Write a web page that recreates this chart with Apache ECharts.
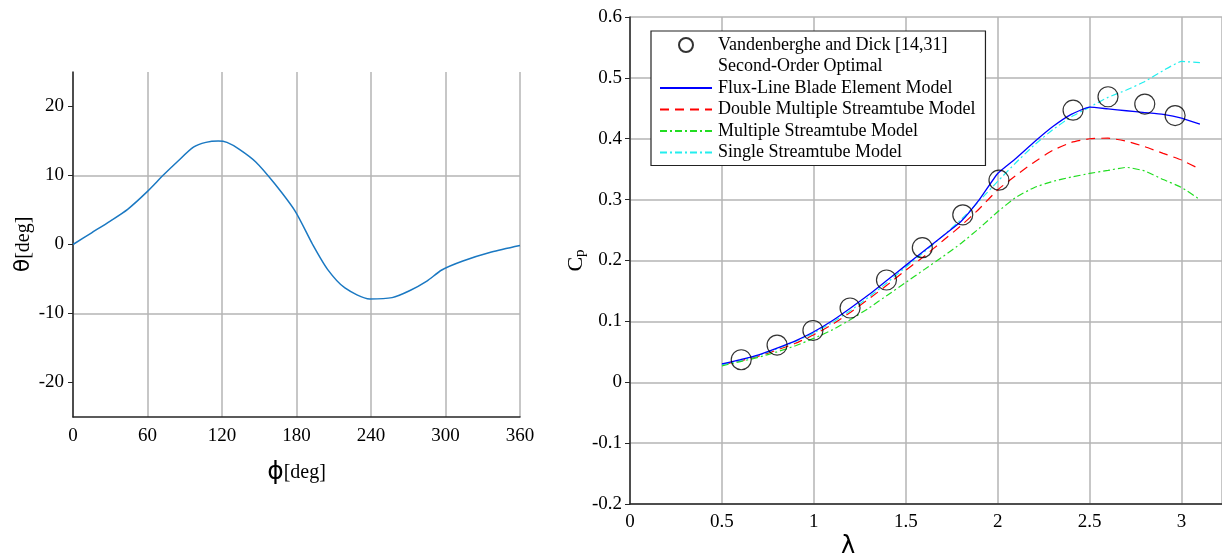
<!DOCTYPE html>
<html><head><meta charset="utf-8">
<script src="https://cdn.jsdelivr.net/npm/echarts@6/dist/echarts.min.js"></script>
<style>html,body{margin:0;padding:0;background:#fff}#c{width:1222px;height:559px}</style>
</head><body><div id="c"></div>
<script>
// Left panel: pitch angle vs azimuth
const phiDeg = [0, 15, 30, 44, 60, 73, 84, 97, 107, 117, 124, 134, 147, 162, 179, 193, 205, 219, 239, 257, 271, 285, 297, 314, 337, 360];
const thetaDeg = [0, 1.7, 3.4, 5.1, 7.7, 10.1, 12.0, 14.1, 14.8, 15.0, 14.8, 13.8, 12.0, 8.9, 4.8, 0, -3.6, -6.3, -7.9, -7.7, -6.7, -5.3, -3.7, -2.4, -1.1, -0.15];
const phiTicks = [0, 60, 120, 180, 240, 300, 360];
const thetaTicks = [-20, -10, 0, 10, 20];

// Right panel: power coefficient vs tip speed ratio
const lambdaExp = [0.605, 0.80, 0.995, 1.197, 1.395, 1.59, 1.81, 2.007, 2.41, 2.60, 2.80, 2.965];
const cpExp = [0.037, 0.061, 0.085, 0.122, 0.168, 0.221, 0.275, 0.332, 0.447, 0.469, 0.457, 0.438];
const lambdaModel = [0.5, 0.6, 0.7, 0.8, 0.9, 1.0, 1.1, 1.2, 1.3, 1.4, 1.5, 1.6, 1.7, 1.8, 1.9, 2.0, 2.1, 2.2, 2.3, 2.4, 2.5, 2.6, 2.7, 2.8, 2.9, 3.0, 3.1];
const cpFluxLine = [0.030, 0.037, 0.045, 0.056, 0.068, 0.083, 0.101, 0.122, 0.144, 0.168, 0.192, 0.216, 0.240, 0.264, 0.300, 0.343, 0.368, 0.395, 0.420, 0.440, 0.452, 0.449, 0.446, 0.443, 0.440, 0.434, 0.424];
const cpDMS = [0.029, 0.035, 0.043, 0.053, 0.064, 0.078, 0.095, 0.115, 0.137, 0.160, 0.184, 0.207, 0.232, 0.257, 0.285, 0.316, 0.340, 0.362, 0.381, 0.394, 0.400, 0.401, 0.396, 0.387, 0.376, 0.365, 0.350];
const cpMS = [0.027, 0.034, 0.041, 0.050, 0.060, 0.072, 0.086, 0.103, 0.122, 0.143, 0.164, 0.185, 0.206, 0.228, 0.253, 0.280, 0.304, 0.320, 0.330, 0.337, 0.343, 0.348, 0.353, 0.347, 0.333, 0.320, 0.300];
const cpSS = [0.029, 0.036, 0.044, 0.055, 0.067, 0.081, 0.098, 0.118, 0.140, 0.164, 0.189, 0.214, 0.240, 0.267, 0.298, 0.330, 0.361, 0.390, 0.415, 0.436, 0.452, 0.468, 0.480, 0.494, 0.512, 0.527, 0.525];
const seriesNames = ['Vandenberghe and Dick [14,31]', 'Second-Order Optimal', 'Flux-Line Blade Element Model', 'Double Multiple Streamtube Model', 'Multiple Streamtube Model', 'Single Streamtube Model'];

const zip = (a, b) => a.map((v, i) => [v, b[i]]);
const SERIF = '"Liberation Serif","Times New Roman",serif';
const GRID = '#b4b4b4';
const AX = '#262626';
const tickFont = { fontFamily: SERIF, fontSize: 19, color: '#000' };
const noDot = { opacity: 0 };

const chart = echarts.init(document.getElementById('c'), null, { renderer: 'canvas' });
chart.setOption({
  animation: false,
  backgroundColor: '#fff',
  grid: [
    { left: 73, right: 702, top: 72, bottom: 142 },
    { left: 630, right: -2, top: 17, bottom: 55 }
  ],
  legend: {
    left: 651, top: 31, orient: 'vertical',
    backgroundColor: '#fff', borderColor: '#222', borderWidth: 1.2, borderRadius: 0,
    padding: [5, 10, 4, 8], itemGap: 3.5, itemWidth: 52, itemHeight: 14,
    textStyle: { fontFamily: SERIF, fontSize: 18, color: '#000', padding: [0, 0, 0, 1] },
    selectedMode: false,
    data: [
      { name: seriesNames[0], icon: 'circle' },
      { name: seriesNames[1], icon: 'rect', itemStyle: { opacity: 0 } },
      { name: seriesNames[2], itemStyle: noDot },
      { name: seriesNames[3], itemStyle: noDot },
      { name: seriesNames[4], itemStyle: noDot },
      { name: seriesNames[5], itemStyle: noDot }
    ]
  },
  xAxis: [
    {
      gridIndex: 0, type: 'value', min: 0, max: 360, interval: 60,
      name: '{s|ϕ}{t|[deg]}', nameLocation: 'middle', nameGap: 43,
      nameTextStyle: { rich: { s: { fontFamily: 'DejaVu Sans', fontSize: 25, color: '#000' }, t: { fontFamily: SERIF, fontSize: 20, color: '#000' } } },
      axisLine: { onZero: false, lineStyle: { color: AX, width: 1.5 } },
      axisTick: { show: false },
      axisLabel: Object.assign({ margin: 10 }, tickFont),
      splitLine: { show: true, lineStyle: { color: GRID, width: 1.5 } }
    },
    {
      gridIndex: 1, type: 'value', min: 0, max: 3.22, interval: 0.5,
      axisLine: { onZero: false, lineStyle: { color: AX, width: 1.5 } },
      axisTick: { show: false },
      axisLabel: Object.assign({ margin: 9, showMaxLabel: false }, tickFont),
      splitLine: { show: true, lineStyle: { color: GRID, width: 1.5 } }
    }
  ],
  yAxis: [
    {
      gridIndex: 0, type: 'value', min: -25, max: 25, interval: 5,
      name: '{s|θ}{t|[deg]}', nameLocation: 'middle', nameRotate: 90, nameGap: 32,
      nameTextStyle: { rich: { s: { fontFamily: 'DejaVu Sans', fontSize: 22, color: '#000' }, t: { fontFamily: SERIF, fontSize: 20, color: '#000' } } },
      axisLine: { show: true, onZero: false, lineStyle: { color: AX, width: 1.5 } },
      axisTick: { show: true, length: 5, lineStyle: { color: AX }, customValues: thetaTicks },
      axisLabel: Object.assign({ margin: 9, customValues: thetaTicks, formatter: v => (thetaTicks.indexOf(v) >= 0 ? String(v) : '') }, tickFont),
      splitLine: { show: true, lineStyle: { color: ['rgba(0,0,0,0)', GRID], width: 1.5 } }
    },
    {
      gridIndex: 1, type: 'value', min: -0.2, max: 0.6, interval: 0.1,
      name: '{a|C}{b|p}', nameLocation: 'middle', nameRotate: 90, nameGap: 31,
      nameTextStyle: { rich: { a: { fontFamily: SERIF, fontSize: 22, color: '#000' }, b: { fontFamily: SERIF, fontSize: 15, color: '#000', padding: [9, 0, 0, 0] } } },
      axisLine: { show: true, onZero: false, lineStyle: { color: AX, width: 1.5 } },
      axisTick: { show: true, length: 5, lineStyle: { color: AX } },
      axisLabel: Object.assign({ margin: 8, formatter: v => String(Math.round(v * 10) / 10) }, tickFont),
      splitLine: { show: true, lineStyle: { color: GRID, width: 1.5 } }
    }
  ],
  graphic: [
    { type: 'text', left: 841, top: 535, style: { text: 'λ', font: '24px "DejaVu Sans"', fill: '#000' } }
  ],
  series: [
    {
      type: 'line', xAxisIndex: 0, yAxisIndex: 0, data: zip(phiDeg, thetaDeg),
      smooth: 0.25, symbol: 'none', lineStyle: { color: '#1a78c2', width: 1.5 }
    },
    {
      name: seriesNames[0], type: 'scatter', xAxisIndex: 1, yAxisIndex: 1, data: zip(lambdaExp, cpExp),
      symbol: 'circle', symbolSize: 20, z: 5,
      itemStyle: { color: 'rgba(0,0,0,0)', borderColor: '#000', borderWidth: 1.2 }
    },
    { name: seriesNames[1], type: 'line', xAxisIndex: 1, yAxisIndex: 1, data: [], symbol: 'none' },
    {
      name: seriesNames[2], type: 'line', xAxisIndex: 1, yAxisIndex: 1, data: zip(lambdaModel, cpFluxLine),
      symbol: 'none', smooth: 0.15, z: 4, lineStyle: { color: '#0000ff', width: 1.3 }, itemStyle: { color: '#0000ff' }
    },
    {
      name: seriesNames[3], type: 'line', xAxisIndex: 1, yAxisIndex: 1, data: zip(lambdaModel, cpDMS),
      symbol: 'none', smooth: 0.15, lineStyle: { color: '#ff0000', width: 1.2, type: [9, 6] }, itemStyle: { color: '#ff0000' }
    },
    {
      name: seriesNames[4], type: 'line', xAxisIndex: 1, yAxisIndex: 1, data: zip(lambdaModel, cpMS),
      symbol: 'none', smooth: 0.15, lineStyle: { color: '#22dd22', width: 1.2, type: [7, 3, 2, 3] }, itemStyle: { color: '#22dd22' }
    },
    {
      name: seriesNames[5], type: 'line', xAxisIndex: 1, yAxisIndex: 1, data: zip(lambdaModel, cpSS),
      symbol: 'none', smooth: 0.15, lineStyle: { color: '#22eeee', width: 1.2, type: [7, 3, 2, 3] }, itemStyle: { color: '#22eeee' }
    }
  ]
});
</script></body></html>
